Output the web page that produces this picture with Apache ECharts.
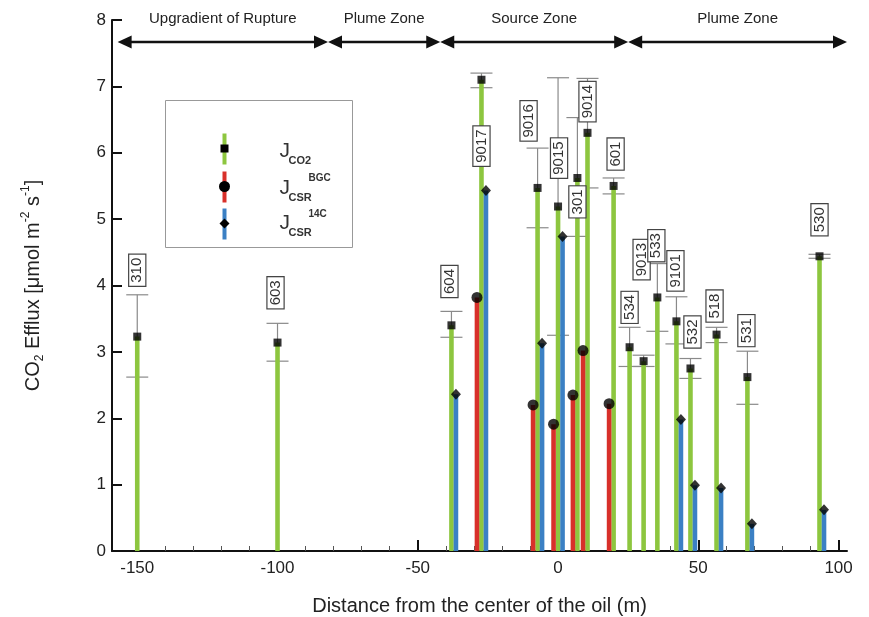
<!DOCTYPE html>
<html>
<head>
<meta charset="utf-8">
<script src="https://cdn.jsdelivr.net/npm/echarts@6/dist/echarts.min.js"></script>
<style>
html, body { margin: 0; background: #fff; }
#main { width: 869px; height: 617px; }
</style>
</head>
<body>
<div id="main"></div>
<script>
// chamber sites and their distance from the oil centre (m)
var sites = ['310', '603', '604', '9017', '9016', '9015', '301', '9014', '601', '534', '9013', '533', '9101', '532', '518', '531', '530'];
var distance = [-150, -100, -38, -27.3, -7.3, 0, 6.9, 10.5, 19.8, 25.5, 30.5, 35.4, 42.2, 47.2, 56.5, 67.5, 93.2];

// fluxes, umol m-2 s-1
var jCO2 = [3.23, 3.14, 3.4, 7.1, 5.47, 5.19, 5.62, 6.3, 5.5, 3.07, 2.86, 3.82, 3.46, 2.75, 3.26, 2.62, 4.44];
var jCO2Low = [2.62, 2.86, 3.22, 6.98, 4.87, 3.25, 4.74, 5.47, 5.38, 2.78, 2.78, 3.31, 3.12, 2.6, 3.14, 2.21, 4.41];
var jCO2High = [3.86, 3.43, 3.61, 7.2, 6.07, 7.13, 6.53, 7.12, 5.62, 3.37, 2.95, 4.33, 3.83, 2.9, 3.37, 3.01, 4.47];
var jBGC = [null, null, null, 3.82, 2.2, 1.91, 2.35, 3.02, 2.22, null, null, null, null, null, null, null, null];
var j14C = [null, null, 2.36, 5.43, 3.13, 4.74, null, null, null, null, null, null, 1.98, 0.99, 0.95, 0.41, 0.62];

// where the site tags sit (y value of tag centre)
var tagY = [4.23, 3.89, 4.06, 6.1, 6.48, 5.92, 5.26, 6.77, 5.98, 3.67, 4.39, 4.6, 4.22, 3.3, 3.69, 3.32, 4.99];
var tagShift = [0, -2, -2, 0, -9, 1, 0, 0, 2, 0, -2, -1, -1, 2, -2, -1, 0];

// zones along the top
var zoneNames = ['Upgradient of Rupture', 'Plume Zone', 'Source Zone', 'Plume Zone'];
var zoneStart = [-157, -82, -42, 25];
var zoneEnd = [-82, -42, 25, 103];
var zoneLevel = 7.67;

var majorTicks = [-150, -100, -50, 0, 50, 100];
var minorTicks = [];
for (var t = -150; t <= 100; t += 10) {
    if (t % 50 !== 0) minorTicks.push(t);
}

var GREEN = '#8dc63f', RED = '#d8302a', BLUE = '#3b80c4';
var FONT = "'Liberation Sans', Arial, sans-serif";

function pairs(vals) {
    var out = [];
    for (var i = 0; i < distance.length; i++) {
        if (vals[i] != null) out.push([distance[i], vals[i], i]);
    }
    return out;
}

function barSeries(name, vals, color, shift) {
    return {
        name: name,
        type: 'custom',
        z: 3,
        encode: { x: 0, y: 1 },
        data: pairs(vals),
        renderItem: function (params, api) {
            var top = api.coord([api.value(0), api.value(1)]);
            var base = api.coord([api.value(0), 0]);
            return {
                type: 'rect',
                shape: { x: top[0] + shift - 2.3, y: top[1], width: 4.6, height: base[1] - top[1] },
                style: { fill: color }
            };
        }
    };
}

function markerSeries(name, vals, symbol, size, shift) {
    return {
        name: name,
        type: 'scatter',
        z: 4,
        symbol: symbol,
        symbolSize: size,
        symbolOffset: [shift, 0],
        itemStyle: { color: '#000' },
        data: pairs(vals)
    };
}

var errData = distance.map(function (d, i) { return [d, jCO2Low[i], jCO2High[i]]; });
var tagData = distance.map(function (d, i) { return [d, tagY[i], i]; });
var zoneData = zoneNames.map(function (n, i) { return [zoneStart[i], zoneEnd[i], zoneLevel, i]; });

var myChart = echarts.init(document.getElementById('main'));

option = {
    backgroundColor: '#fff',
    animation: false,
    textStyle: { fontFamily: FONT },
    grid: { left: 112, top: 20, width: 735, height: 531, outerBoundsMode: 'none', containLabel: false },
    xAxis: [
        {
            type: 'value',
            min: -159,
            max: 103,
            name: 'Distance from the center of the oil (m)',
            nameLocation: 'middle',
            nameGap: 45,
            nameTextStyle: { fontSize: 20, color: '#222', fontFamily: FONT },
            axisLine: { show: true, onZero: false, lineStyle: { color: '#111', width: 2 } },
            axisTick: { show: true, inside: true, length: 11, customValues: majorTicks, lineStyle: { color: '#111', width: 2 } },
            axisLabel: { customValues: majorTicks, fontSize: 17, color: '#222', margin: 9, fontFamily: FONT },
            splitLine: { show: false }
        },
        {
            type: 'value',
            min: -159,
            max: 103,
            position: 'bottom',
            axisLine: { show: false, onZero: false },
            axisTick: { show: true, inside: true, length: 5, customValues: minorTicks, lineStyle: { color: '#555', width: 1 } },
            axisLabel: { show: false },
            splitLine: { show: false }
        }
    ],
    yAxis: {
        type: 'value',
        min: 0,
        max: 8,
        interval: 1,
        name: 'CO{sub|2} Efflux [μmol m{sup|-2} s{sup|-1}]',
        nameLocation: 'middle',
        nameRotate: 90,
        nameGap: 66,
        nameTextStyle: {
            fontSize: 20, color: '#222', fontFamily: FONT,
            rich: {
                sub: { fontSize: 12, color: '#222', verticalAlign: 'bottom', lineHeight: 26, fontFamily: FONT },
                sup: { fontSize: 12, color: '#222', verticalAlign: 'top', lineHeight: 26, fontFamily: FONT }
            }
        },
        axisLine: { show: true, onZero: false, lineStyle: { color: '#111', width: 2 } },
        axisTick: { show: true, inside: true, length: 10, lineStyle: { color: '#111', width: 2 } },
        axisLabel: { fontSize: 17, color: '#222', margin: 6, fontFamily: FONT },
        splitLine: { show: false }
    },
    graphic: [
        {
            type: 'group',
            left: 165,
            top: 100,
            children: [
                { type: 'rect', shape: { x: 0, y: 0, width: 187, height: 147 }, style: { fill: '#fff', stroke: '#999', lineWidth: 1 } },
                { type: 'rect', shape: { x: 57, y: 33, width: 4, height: 31 }, style: { fill: GREEN } },
                { type: 'rect', shape: { x: 55, y: 44, width: 8, height: 8 }, style: { fill: '#000' } },
                { type: 'rect', shape: { x: 57, y: 71, width: 4, height: 31 }, style: { fill: RED } },
                { type: 'circle', shape: { cx: 59, cy: 86, r: 5.5 }, style: { fill: '#000' } },
                { type: 'rect', shape: { x: 57, y: 108, width: 4, height: 31 }, style: { fill: BLUE } },
                { type: 'polygon', shape: { points: [[59, 118], [64, 123], [59, 128], [54, 123]] }, style: { fill: '#000' } },

                { type: 'text', x: 114, y: 51, style: { text: 'J', fontSize: 21, fill: '#333', fontFamily: FONT, verticalAlign: 'middle' } },
                { type: 'text', x: 123, y: 60, style: { text: 'CO2', fontSize: 11, fill: '#333', fontFamily: FONT, fontWeight: 'bold', verticalAlign: 'middle' } },
                { type: 'text', x: 114, y: 88, style: { text: 'J', fontSize: 21, fill: '#333', fontFamily: FONT, verticalAlign: 'middle' } },
                { type: 'text', x: 123, y: 97, style: { text: 'CSR', fontSize: 11, fill: '#333', fontFamily: FONT, fontWeight: 'bold', verticalAlign: 'middle' } },
                { type: 'text', x: 143, y: 78, style: { text: 'BGC', fontSize: 10, fill: '#333', fontFamily: FONT, fontWeight: 'bold', verticalAlign: 'middle' } },
                { type: 'text', x: 114, y: 123, style: { text: 'J', fontSize: 21, fill: '#333', fontFamily: FONT, verticalAlign: 'middle' } },
                { type: 'text', x: 123, y: 132, style: { text: 'CSR', fontSize: 11, fill: '#333', fontFamily: FONT, fontWeight: 'bold', verticalAlign: 'middle' } },
                { type: 'text', x: 143, y: 114, style: { text: '14C', fontSize: 10, fill: '#333', fontFamily: FONT, fontWeight: 'bold', verticalAlign: 'middle' } }
            ]
        }
    ],
    series: [
        {
            name: 'error',
            type: 'custom',
            z: 2,
            encode: { x: 0, y: [1, 2] },
            data: errData,
            renderItem: function (params, api) {
                var lo = api.coord([api.value(0), api.value(1)]);
                var hi = api.coord([api.value(0), api.value(2)]);
                var st = { stroke: '#8a8a8a', lineWidth: 1.2 };
                return {
                    type: 'group',
                    children: [
                        { type: 'line', shape: { x1: hi[0], y1: hi[1], x2: lo[0], y2: lo[1] }, style: st },
                        { type: 'line', shape: { x1: hi[0] - 11, y1: hi[1], x2: hi[0] + 11, y2: hi[1] }, style: st },
                        { type: 'line', shape: { x1: lo[0] - 11, y1: lo[1], x2: lo[0] + 11, y2: lo[1] }, style: st }
                    ]
                };
            }
        },
        barSeries('J_CO2', jCO2, GREEN, 0),
        barSeries('J_CSR BGC', jBGC, RED, -4.5),
        barSeries('J_CSR 14C', j14C, BLUE, 4.5),
        markerSeries('J_CO2 mark', jCO2, 'rect', 8, 0),
        markerSeries('J_CSR BGC mark', jBGC, 'circle', 11, -4.5),
        markerSeries('J_CSR 14C mark', j14C, 'diamond', [10, 11], 4.5),
        {
            name: 'tags',
            type: 'custom',
            z: 6,
            encode: { x: 0, y: 1 },
            data: tagData,
            renderItem: function (params, api) {
                var i = api.value(2);
                var p = api.coord([api.value(0), api.value(1)]);
                return {
                    type: 'text',
                    x: p[0] + tagShift[i],
                    y: p[1],
                    rotation: Math.PI / 2,
                    style: {
                        text: sites[i],
                        fontSize: 15,
                        fontFamily: FONT,
                        fill: '#333',
                        align: 'center',
                        verticalAlign: 'middle',
                        backgroundColor: '#fff',
                        borderColor: '#444',
                        borderWidth: 1.2,
                        padding: [1, 3, 0, 3]
                    }
                };
            }
        },
        {
            name: 'zones',
            type: 'custom',
            z: 6,
            encode: { x: [0, 1], y: 2 },
            data: zoneData,
            renderItem: function (params, api) {
                var a = api.coord([api.value(0), api.value(2)]);
                var b = api.coord([api.value(1), api.value(2)]);
                var y = a[1];
                return {
                    type: 'group',
                    children: [
                        { type: 'line', shape: { x1: a[0] + 6, y1: y, x2: b[0] - 6, y2: y }, style: { stroke: '#111', lineWidth: 2.5 } },
                        { type: 'polygon', shape: { points: [[a[0], y], [a[0] + 14, y - 6.5], [a[0] + 14, y + 6.5]] }, style: { fill: '#111' } },
                        { type: 'polygon', shape: { points: [[b[0], y], [b[0] - 14, y - 6.5], [b[0] - 14, y + 6.5]] }, style: { fill: '#111' } },
                        {
                            type: 'text',
                            x: (a[0] + b[0]) / 2,
                            y: y - 23,
                            style: { text: zoneNames[api.value(3)], fontSize: 15, fontFamily: FONT, fill: '#222', align: 'center', verticalAlign: 'middle' }
                        }
                    ]
                };
            }
        }
    ]
};

myChart.setOption(option);
</script>
</body>
</html>
